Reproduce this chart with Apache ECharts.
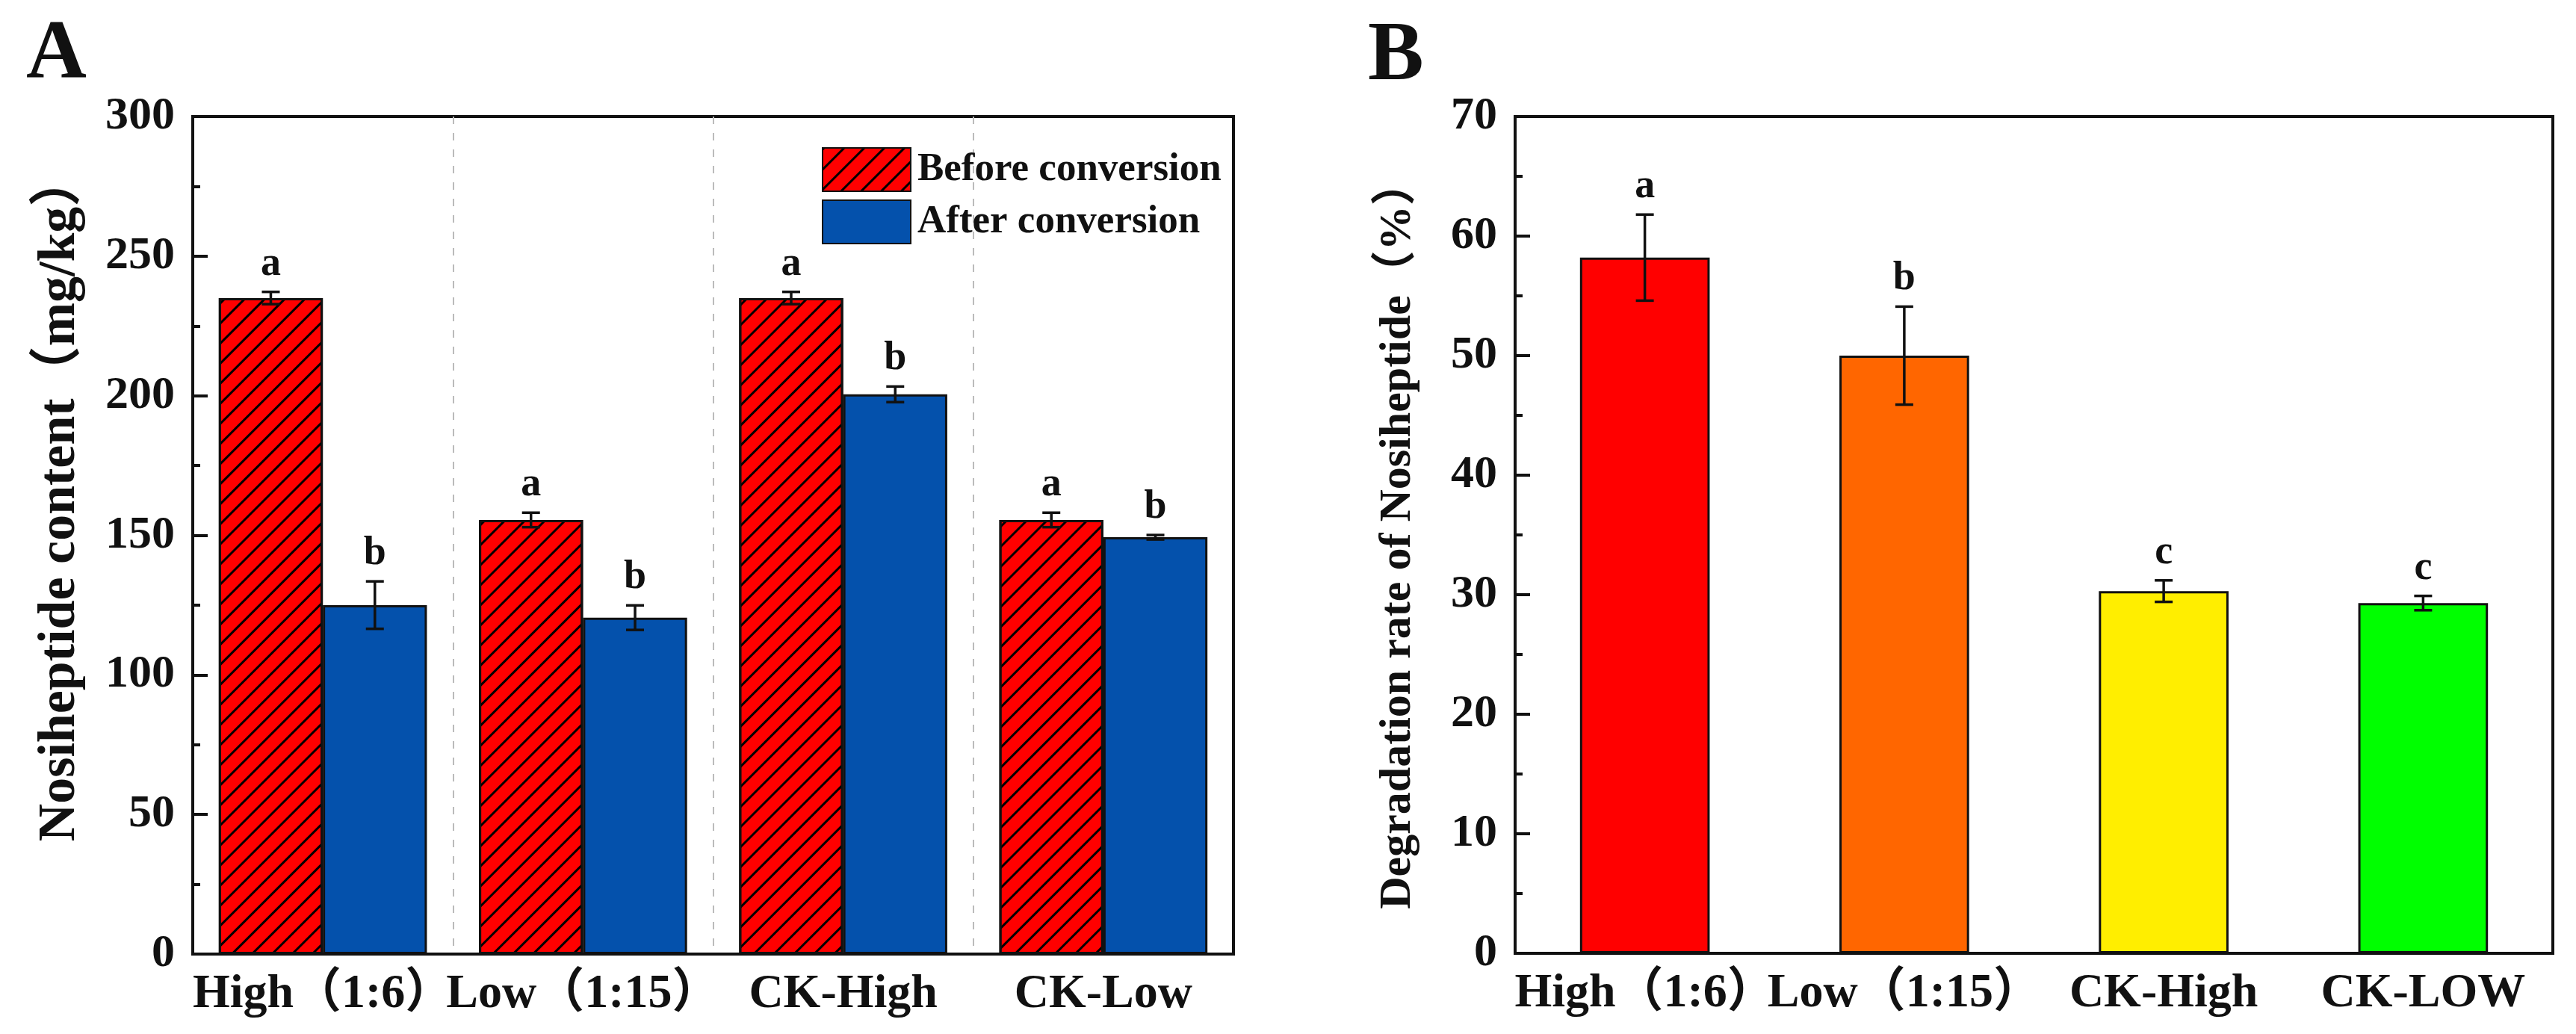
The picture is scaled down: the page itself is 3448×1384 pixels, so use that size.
<!DOCTYPE html>
<html>
<head>
<meta charset="utf-8">
<script src="https://cdn.jsdelivr.net/npm/echarts@6/dist/echarts.min.js"></script>
<style>
html,body{margin:0;padding:0;background:#fff;}
#main{width:3448px;height:1384px;}
</style>
</head>
<body>
<div id="main"></div>
<script>
// ---------- Data ----------
const categoriesA = ['High（1:6）', 'Low（1:15）', 'CK-High', 'CK-Low'];
const beforeValues = [235, 155.5, 235, 155.5];
const beforeErrors = [2.2, 2.6, 2.2, 2.6];
const beforeLetters = ['a', 'a', 'a', 'a'];
const afterValues = [125, 120.5, 200.5, 149.3];
const afterErrors = [8.5, 4.4, 2.8, 0.8];
const afterLetters = ['b', 'b', 'b', 'b'];
const yTicksA = { min: 0, max: 300, interval: 50 };

const categoriesB = ['High（1:6）', 'Low（1:15）', 'CK-High', 'CK-LOW'];
const rateValues = [58.2, 50.0, 30.3, 29.3];
const rateErrors = [3.6, 4.1, 0.9, 0.6];
const rateLetters = ['a', 'b', 'c', 'c'];
const yTicksB = { min: 0, max: 70, interval: 10 };

// ---------- Styles ----------
const rateColors = ['#FF0000', '#FF6600', '#FFEE00', '#00FF00'];
const FONT = "'Liberation Serif','Times New Roman','Noto Sans CJK SC',serif";
const INK = '#111';

const chart = echarts.init(document.getElementById('main'));

function errRender(offsetFrac, letters) {
  return function (params, api) {
    const i = api.value(0);
    const v = api.value(1);
    const e = api.value(2);
    const band = api.size([1, 0])[0];
    const c = api.coord([i, v]);
    const x = c[0] + offsetFrac * band;
    const top = api.coord([i, v + e])[1];
    const bot = api.coord([i, v - e])[1];
    const cap = 12;
    const ls = { stroke: INK, lineWidth: 3.5 };
    return {
      type: 'group',
      children: [
        { type: 'line', shape: { x1: x, y1: top, x2: x, y2: bot }, style: ls },
        { type: 'line', shape: { x1: x - cap, y1: top, x2: x + cap, y2: top }, style: ls },
        { type: 'line', shape: { x1: x - cap, y1: bot, x2: x + cap, y2: bot }, style: ls },
        { type: 'text', x: x, y: top - 10,
          style: { text: letters[params.dataIndex], textAlign: 'center', textVerticalAlign: 'bottom',
                   font: "bold 54px " + FONT, fill: INK } }
      ]
    };
  };
}

const hatch = {
  symbol: 'rect', symbolSize: 1,
  dashArrayX: [1, 0], dashArrayY: [3, 16],
  rotation: -Math.PI / 4, color: '#000'
};

const yAxisCommon = {
  axisLine: { show: true, lineStyle: { color: INK, width: 4 } },
  axisTick: { show: true, inside: true, length: 20, lineStyle: { color: INK, width: 4 } },
  minorTick: { show: true, splitNumber: 2, length: 10, lineStyle: { color: INK, width: 4 } },
  splitLine: { show: false },
  axisLabel: { fontFamily: FONT, fontWeight: 'bold', fontSize: 62, color: INK, margin: 24 },
  nameLocation: 'middle',
  nameTextStyle: { fontFamily: FONT, fontWeight: 'bold', fontSize: 60, color: INK }
};

const xLabel = { fontFamily: FONT, fontWeight: 'bold', fontSize: 64, color: INK, margin: 22, interval: 0 };

const option = {
  backgroundColor: '#fff',
  animation: false,
  title: [
    { text: 'A', left: 30, top: 14, textStyle: { fontFamily: FONT, fontWeight: 'bold', fontSize: 112, color: INK } },
    { text: 'B', left: 1826, top: 16, textStyle: { fontFamily: FONT, fontWeight: 'bold', fontSize: 112, color: INK } }
  ],
  legend: {
    data: ['Before conversion', 'After conversion'],
    orient: 'vertical', left: 1095, top: 192,
    itemWidth: 118, itemHeight: 58, itemGap: 10,
    icon: 'rect',
    textStyle: { fontFamily: FONT, fontWeight: 'bold', fontSize: 53, color: INK, padding: [0, 0, 0, 4] }
  },
  grid: [
    { left: 258, top: 156, width: 1393, height: 1121, show: true, borderColor: INK, borderWidth: 4 },
    { left: 2028, top: 156, width: 1389, height: 1120, show: true, borderColor: INK, borderWidth: 4 }
  ],
  xAxis: [
    { type: 'category', gridIndex: 0, data: categoriesA,
      axisLine: { show: true, lineStyle: { color: INK, width: 4 } },
      axisTick: { show: false },
      splitLine: { show: true, lineStyle: { color: '#bbb', width: 2, type: [10, 12] } },
      axisLabel: xLabel },
    { type: 'category', gridIndex: 1, data: categoriesB,
      axisLine: { show: true, lineStyle: { color: INK, width: 4 } },
      axisTick: { show: false },
      splitLine: { show: false },
      axisLabel: xLabel }
  ],
  yAxis: [
    Object.assign({}, yAxisCommon, { type: 'value', gridIndex: 0, min: yTicksA.min, max: yTicksA.max, interval: yTicksA.interval,
      name: 'Nosiheptide content（mg/kg）', nameGap: 142,
      nameTextStyle: { fontFamily: FONT, fontWeight: 'bold', fontSize: 70, color: INK, padding: [0, 0, 0, 100] } }),
    Object.assign({}, yAxisCommon, { type: 'value', gridIndex: 1, min: yTicksB.min, max: yTicksB.max, interval: yTicksB.interval,
      name: 'Degradation rate of Nosiheptide（%）', nameGap: 127 }),
    { type: 'value', gridIndex: 0, position: 'right', min: yTicksA.min, max: yTicksA.max, interval: yTicksA.interval,
      axisLine: { show: true, lineStyle: { color: INK, width: 4 } },
      axisTick: { show: false }, axisLabel: { show: false }, splitLine: { show: false } }
  ],
  series: [
    { name: 'Before conversion', type: 'bar', xAxisIndex: 0, yAxisIndex: 0,
      data: beforeValues, barGap: '0%', barCategoryGap: '20%',
      itemStyle: { color: '#FF0000', borderColor: INK, borderWidth: 3, decal: hatch } },
    { name: 'After conversion', type: 'bar', xAxisIndex: 0, yAxisIndex: 0,
      data: afterValues, barGap: '0%', barCategoryGap: '20%',
      itemStyle: { color: '#0451AC', borderColor: INK, borderWidth: 3 } },
    { type: 'custom', xAxisIndex: 0, yAxisIndex: 0, z: 10,
      data: beforeValues.map((v, i) => [i, v, beforeErrors[i]]),
      renderItem: errRender(-0.2, beforeLetters), silent: true },
    { type: 'custom', xAxisIndex: 0, yAxisIndex: 0, z: 10,
      data: afterValues.map((v, i) => [i, v, afterErrors[i]]),
      renderItem: errRender(0.2, afterLetters), silent: true },
    { name: 'Degradation', type: 'bar', xAxisIndex: 1, yAxisIndex: 1, barWidth: '50%',
      data: rateValues.map((v, i) => ({ value: v, itemStyle: { color: rateColors[i] } })),
      itemStyle: { borderColor: INK, borderWidth: 3 } },
    { type: 'custom', xAxisIndex: 1, yAxisIndex: 1, z: 10,
      data: rateValues.map((v, i) => [i, v, rateErrors[i]]),
      renderItem: errRender(0, rateLetters), silent: true }
  ]
};
chart.setOption(option);
</script>
</body>
</html>
